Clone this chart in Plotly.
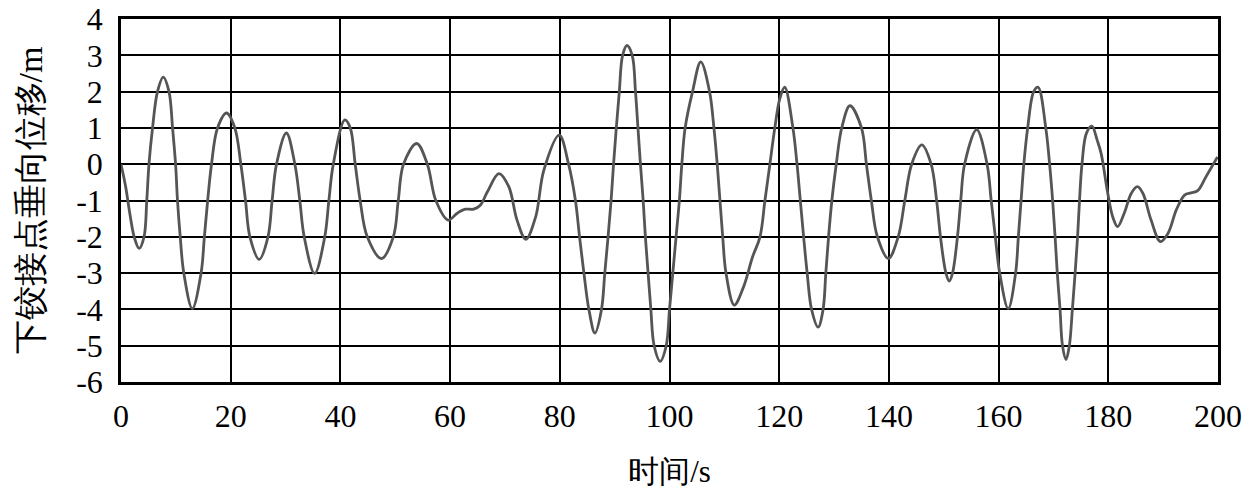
import plotly.graph_objects as go

# time (s) and vertical displacement of the lower hinge point (m)
t = [0, 0.85, 1.6, 2.4, 3.3, 4.2, 4.7, 5.1, 5.75, 6.65, 7.7, 8.75, 9.4, 9.95, 10.3, 10.8,
     11.45, 13.0, 14.6, 15.2, 15.8, 16.5, 17.6, 19.25, 20.75, 21.85, 22.7, 23.5, 25.2,
     26.8, 27.55, 28.35, 30.15, 31.7, 32.6, 33.4, 35.3, 37.15, 37.9, 38.7, 40.8, 41.8,
     42.7, 43.6, 44.9, 47.5, 49.65, 50.55, 51.5, 53.9, 55.85, 57.4, 59.65, 61.3, 62.8,
     64.3, 65.5, 66.8, 68.9, 70.7, 72.2, 73.8, 75.6, 77.1, 79.9, 81.6, 82.85, 83.6,
     84.4, 85.3, 86.4, 87.6, 88.2, 88.8, 89.35, 89.8, 90.3, 90.85, 91.45, 92.25, 93.2,
     93.8, 94.25, 94.7, 95.2, 95.6, 96.1, 96.6, 97.2, 98.3, 99.4, 100.0, 100.6, 101.2,
     101.8, 102.25, 102.85, 104.2, 105.7, 107.3, 108.1, 108.7, 109.2, 109.7, 110.3,
     111.8, 113.45, 115.15, 116.5, 117.4, 118.3, 119.2, 120.1, 121.0, 122.5, 123.25,
     123.85, 124.45, 125.1, 125.9, 127.1, 128.0, 128.5, 129.0, 129.6, 130.4, 131.4,
     132.9, 135.0, 135.9, 136.8, 137.9, 139.9, 141.7, 142.9, 144.15, 146.0, 147.7,
     148.7, 149.4, 150.4, 151.0, 151.6, 152.5, 153.1, 153.8, 156.0, 157.9, 158.65, 159.4, 160.2,
     161.75, 163.1, 163.6, 164.1, 164.6, 165.3, 166.4, 167.2, 168.6, 169.3, 169.85,
     170.3, 170.7, 171.2, 171.65, 172.3, 172.9, 173.45, 173.95, 174.4, 174.75, 175.2,
     176.0, 177.0, 178.0, 178.7, 179.9, 180.8, 181.7, 182.9, 184.2, 185.3, 186.3, 187.8,
     189.5, 190.9, 192.4, 193.9, 195.1, 196.3, 197.8, 199.9]
disp = [0.0, -0.62, -1.35, -2.0, -2.32, -2.0, -1.0, 0.0, 1.0, 2.0, 2.40, 2.0, 1.0, 0.0, -1.0, -2.0,
        -3.0, -3.98, -3.0, -2.0, -1.0, 0.0, 1.0, 1.41, 1.0, 0.0, -1.0, -2.0, -2.62,
        -2.0, -1.0, 0.0, 0.86, 0.0, -1.0, -2.0, -3.01, -2.0, -1.0, 0.0, 1.22, 1.0,
        0.0, -1.0, -2.0, -2.6, -2.0, -1.0, 0.0, 0.57, 0.0, -1.0, -1.54, -1.35, -1.24,
        -1.24, -1.13, -0.76, -0.26, -0.62, -1.54, -2.07, -1.45, -0.16, 0.80, 0.0, -1.0, -2.0,
        -3.0, -4.0, -4.65, -4.0, -3.0, -2.0, -1.0, 0.0, 1.0, 2.0, 3.0, 3.27, 3.0,
        2.0, 1.0, 0.0, -1.0, -2.0, -3.0, -4.0, -5.0, -5.43, -5.0, -4.0, -3.0, -2.0,
        -1.0, 0.0, 1.0, 2.0, 2.82, 2.0, 1.0, 0.0, -1.0, -2.0, -3.0,
        -3.88, -3.4, -2.55, -2.0, -1.0, 0.0, 1.0, 1.8, 2.12, 1.0, 0.0,
        -1.0, -2.0, -3.0, -4.0, -4.49, -4.0, -3.0, -2.0, -1.0, 0.0, 1.0,
        1.61, 1.0, 0.0, -1.0, -2.0, -2.6, -2.0, -1.0, 0.0, 0.53, 0.0,
        -1.0, -2.0, -3.0, -3.22, -3.0, -2.0, -1.0, 0.0, 0.95, 0.0, -1.0, -2.0, -3.0,
        -3.98, -3.0, -2.0, -1.0, 0.0, 1.0, 2.0, 2.12, 1.0, 0.0, -1.0,
        -2.0, -3.0, -4.0, -5.0, -5.38, -5.0, -4.0, -3.0, -2.0, -1.0, 0.0,
        0.85, 1.05, 0.65, 0.29, -0.8, -1.45, -1.72, -1.35, -0.8, -0.62, -0.8, -1.54,
        -2.13, -1.9, -1.26, -0.85, -0.79, -0.73, -0.35, 0.2]

x_ticks = [0, 20, 40, 60, 80, 100, 120, 140, 160, 180, 200]
y_ticks = [-6, -5, -4, -3, -2, -1, 0, 1, 2, 3, 4]
y_tick_labels = ["-6", "-5", "-4", "-3", "-2", "-1", "0", "1", "2", "3", "4"]

serif = "Liberation Serif"

fig = go.Figure()
fig.add_trace(go.Scatter(
    x=t, y=disp, mode="lines",
    line=dict(color="#555555", width=2.8, shape="spline", smoothing=1.0),
    showlegend=False,
))

fig.update_layout(
    width=1260, height=494,
    margin=dict(l=121, r=42, t=19, b=112),
    paper_bgcolor="white", plot_bgcolor="white",
    font=dict(family=serif, size=32, color="black"),
)
fig.update_xaxes(
    range=[0, 200], tickvals=x_ticks, automargin=False, ticklabeloverflow="allow",
    tickfont=dict(family=serif, size=32),
    showgrid=True, gridcolor="black", gridwidth=2,
    showline=True, linecolor="black", linewidth=2.5, mirror=True,
    zeroline=False, ticks="", ticklabelstandoff=4,
    title=dict(text="时间/s", font=dict(family=serif, size=31), standoff=28),
)
fig.update_yaxes(
    range=[-6, 4], tickvals=y_ticks, ticktext=y_tick_labels, automargin=False,
    ticklabeloverflow="allow",
    tickfont=dict(family=serif, size=32),
    showgrid=True, gridcolor="black", gridwidth=2,
    showline=True, linecolor="black", linewidth=2.5, mirror=True,
    zeroline=False, ticks="", ticklabelstandoff=9,
    title=dict(text="下铰接点垂向位移/m", font=dict(family=serif, size=34), standoff=24),
)

# drop the browser's default 8px body margin so the figure fills the window
fig.write_html("out.html", config={"displayModeBar": False},
               post_script="document.body.style.margin = '0px';")
